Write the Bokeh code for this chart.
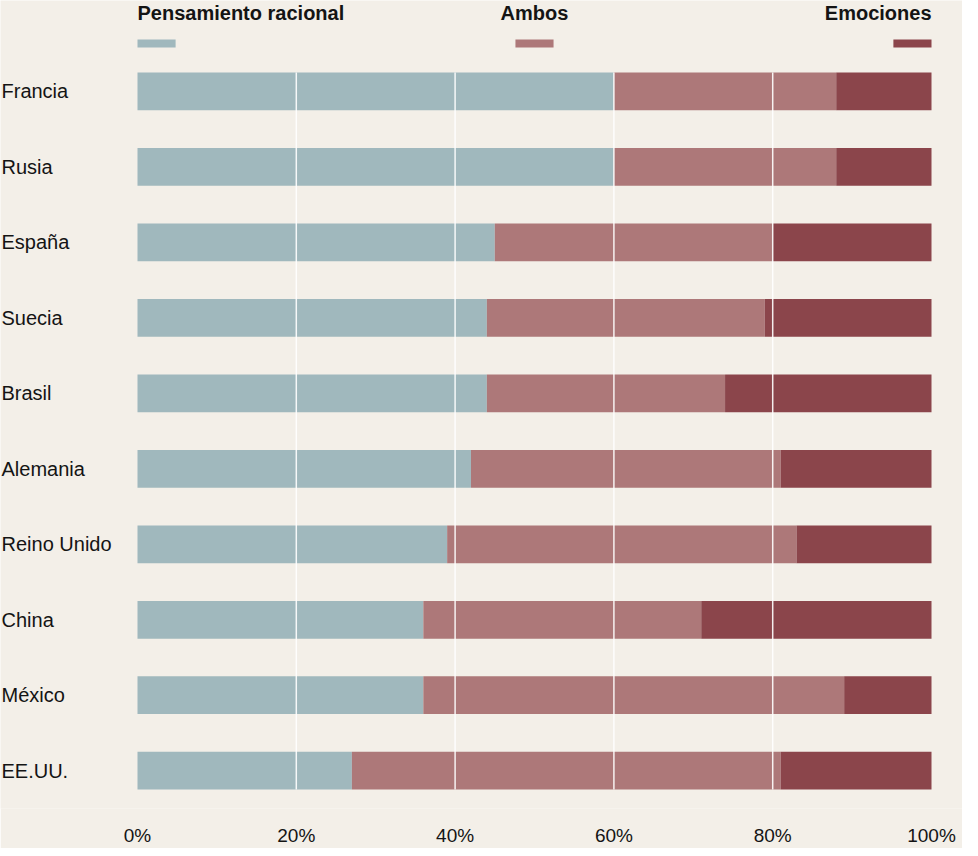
from bokeh.plotting import figure
from bokeh.models import ColumnDataSource, Range1d, FixedTicker, PrintfTickFormatter
from bokeh.core.properties import value
from bokeh.embed import file_html
from bokeh.resources import INLINE

# ---- data ----
countries = ["Francia", "Rusia", "España", "Suecia", "Brasil",
             "Alemania", "Reino Unido", "China", "México", "EE.UU."]
racional = [60, 60, 45, 44, 44, 42, 39, 36, 36, 27]
ambos = [28, 28, 35, 35, 30, 39, 44, 35, 53, 54]
emociones = [12, 12, 20, 21, 26, 19, 17, 29, 11, 19]
series_names = ["Pensamiento racional", "Ambos", "Emociones"]
colors = ["#a0b8bd", "#ad7879", "#8b454b"]
tick_values = [0, 20, 40, 60, 80, 100]
grid_values = [20, 40, 60, 80]

BG = "#f3efe8"
INK = "#141414"
FONT = "Liberation Sans"

W, H = 962, 848
FRAME_H = 810
PX_PER_UNIT_X = 7.94      # pixels per percent
PX_PER_ROW = 75.67        # pixels per category row
LEFT_PX = 137             # position of 0% within the figure
TOP_ROW_PX = 91.1         # centre of first row from top of figure

x_start = -LEFT_PX / PX_PER_UNIT_X
x_end = (W - LEFT_PX) / PX_PER_UNIT_X
y_top = -TOP_ROW_PX / PX_PER_ROW
y_bottom = y_top + FRAME_H / PX_PER_ROW


def py(px):
    """figure pixel (from top) -> data y"""
    return y_top + px / PX_PER_ROW


def pxx(px):
    """figure pixel (from left) -> data x"""
    return x_start + px / PX_PER_UNIT_X


ypos = list(range(len(countries)))
source = ColumnDataSource(dict(
    y=ypos, country=countries,
    racional=racional, ambos=ambos, emociones=emociones,
))

p = figure(width=W, height=H, output_backend="svg", toolbar_location=None,
           x_range=Range1d(x_start, x_end), y_range=Range1d(y_bottom, y_top),
           y_axis_location=None, x_axis_location="below",
           min_border_left=0, min_border_right=0, min_border_top=0,
           min_border_bottom=H - FRAME_H)
p.background_fill_color = BG
p.border_fill_color = BG
p.outline_line_color = None
p.xgrid.visible = False
p.ygrid.visible = False

bar_h = 0.5
p.hbar_stack(["racional", "ambos", "emociones"], y="y", height=bar_h,
             color=colors, line_color=None, source=source)

# white gridlines drawn over the bars
p.segment(x0=grid_values, x1=grid_values,
          y0=[-bar_h / 2] * len(grid_values),
          y1=[len(countries) - 1 + bar_h / 2] * len(grid_values),
          line_color="#ffffff", line_alpha=0.9, line_width=1.5)

# country labels
p.text(x=[pxx(1)] * len(countries), y=ypos, text=countries,
       text_font=value(FONT), text_font_size="20px", text_color=INK,
       text_align="left", text_baseline="middle")

# legend at top
anchors = [0, 50, 100]
aligns = ["left", "center", "right"]
sw_w = 4.8
lefts = [a - (0 if al == "left" else sw_w / 2 if al == "center" else sw_w)
         for a, al in zip(anchors, aligns)]
p.quad(left=lefts, right=[l + sw_w for l in lefts],
       top=[py(39)] * 3, bottom=[py(47)] * 3,
       fill_color=colors, line_color=None)
for a, al, name in zip(anchors, aligns, series_names):
    p.text(x=[a], y=[py(12.5)], text=[name], text_font=value(FONT),
           text_font_size="20px", text_font_style="bold", text_color=INK,
           text_align=al, text_baseline="alphabetic")

ax = p.xaxis[0]
ax.ticker = FixedTicker(ticks=tick_values)
ax.formatter = PrintfTickFormatter(format="%d%%")
ax.axis_line_color = None
ax.major_tick_line_color = None
ax.minor_tick_line_color = None
ax.major_tick_out = 0
ax.major_tick_in = 0
ax.minor_tick_out = 0
ax.minor_tick_in = 0
ax.major_label_text_font = FONT
ax.major_label_text_font_size = "19px"
ax.major_label_text_color = INK
ax.major_label_standoff = 16

open("out.html", "w").write(file_html(p, INLINE))
